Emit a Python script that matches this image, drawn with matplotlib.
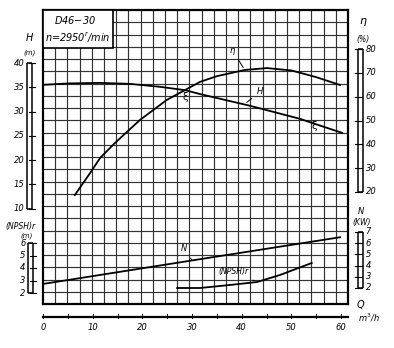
import matplotlib
matplotlib.use("Agg")
import matplotlib.pyplot as plt
from matplotlib.patches import Rectangle

# D46-30 pump, n = 2950 r/min : performance curves
# head H (m)
Q_H = [0, 5.4, 11.5, 17.5, 23.5, 28.6, 31.6, 41.6, 51.7, 54.3, 60.2]
H = [35.5, 35.8, 35.9, 35.7, 35.1, 34.4, 33.6, 31.2, 28.5, 27.6, 25.6]
# efficiency eta (%)
Q_eta = [6.4, 9.5, 11.5, 14.5, 19.5, 24.9, 28.6, 31.6, 35.0, 40.6, 45.1, 50.0, 55.0, 59.8]
eta = [18.7, 28.0, 34.3, 40.6, 50.2, 58.6, 62.8, 66.2, 68.6, 71.2, 72.0, 71.0, 68.2, 64.9]
# shaft power N (kW)
Q_N = [0, 31.6, 59.8]
N = [2.36, 4.57, 6.53]
# required NPSH (m)
Q_npsh = [27.0, 31.6, 37.6, 43.1, 47.7, 54.1]
npsh = [2.4, 2.4, 2.64, 2.88, 3.44, 4.4]

H_ticks = [10, 15, 20, 25, 30, 35, 40]
eta_ticks = [20, 30, 40, 50, 60, 70, 80]
npsh_ticks = [2, 3, 4, 5, 6]
N_ticks = [2, 3, 4, 5, 6, 7]
Q_ticks = [0, 10, 20, 30, 40, 50, 60]

W, Hpx = 394, 348
fig = plt.figure(figsize=(W / 100, Hpx / 100), dpi=100)
fig.patch.set_facecolor("white")
txt = dict(fontsize=6, style="italic", color="black")


def box(x0, y0, x1, y1):
    return [x0 / W, 1 - y1 / Hpx, (x1 - x0) / W, (y1 - y0) / Hpx]


def overlay(ylim):
    a = fig.add_axes(box(43, 10, 348, 304))
    a.set_xlim(0, 61.4)
    a.set_ylim(*ylim)
    a.axis("off")
    a.patch.set_alpha(0)
    return a


# grid paper: 25 x 24 cells
ax = fig.add_axes(box(43, 10, 348, 304))
ax.set_xlim(0, 25)
ax.set_ylim(0, 24)
ax.set_xticks([]); ax.set_yticks([])
for s in ax.spines.values():
    s.set_linewidth(1.6)
for i in range(1, 25):
    ax.axvline(i, color="#333333", lw=0.85)
for j in range(1, 24):
    ax.axhline(j, color="#333333", lw=0.85)
ax.add_patch(Rectangle((0, 20.9), 5.7, 3.1, facecolor="white",
                       edgecolor="black", lw=1.2, zorder=3))
ax.text(0.9, 22.85, "D46$-$30", fontsize=7, style="italic", zorder=4)
ax.text(0.15, 21.4, "n=2950$^r$/min", fontsize=7, style="italic", zorder=4)

lim_H = (-9.69, 50.93)
lim_eta = (-27.0, 96.37)
lim_N = (0.57, 26.82)
lim_npsh = (1.12, 24.64)

axH = overlay(lim_H)
axE = overlay(lim_eta)
axN = overlay(lim_N)
axP = overlay(lim_npsh)

axH.plot(Q_H, H, color="black", lw=1.3)
axE.plot(Q_eta, eta, color="black", lw=1.3)
axN.plot(Q_N, N, color="black", lw=1.3)
axP.plot(Q_npsh, npsh, color="black", lw=1.3)

lead = dict(arrowstyle="-", lw=0.7, color="black")
axE.annotate("η", xy=(40.6, 71.2), xytext=(37.6, 78.5), arrowprops=lead, **txt)
axH.annotate("H", xy=(40.6, 31.5), xytext=(43.0, 33.6), arrowprops=lead, **txt)
axN.annotate("N", xy=(30.0, 4.46), xytext=(27.8, 5.3), arrowprops=lead, **txt)
axP.annotate("(NPSH)r", xy=(43.1, 2.88), xytext=(35.4, 3.5), arrowprops=lead,
             fontsize=5.5, style="italic")
axH.text(28.6, 33.0, "ξ", ha="center", va="center", fontsize=7)
axH.text(54.6, 27.0, "ξ", ha="center", va="center", fontsize=7)


def ruler(x0, ylim, lo, hi, ticks, side):
    r = fig.add_axes(box(x0, 10, x0 + 5, 304))
    r.set_xlim(0, 1)
    r.set_ylim(*ylim)
    r.axis("off")
    r.vlines([0, 1], lo, hi, color="black", lw=1.1, clip_on=False)
    r.hlines([lo, hi], 0, 1, color="black", lw=1.1, clip_on=False)
    for t in ticks:
        if side == "left":
            r.plot([0.3, 1.6], [t, t], color="black", lw=0.8, clip_on=False)
            r.text(-0.5, t, str(t), ha="right", va="center", **txt)
        else:
            r.plot([-0.6, 0.7], [t, t], color="black", lw=0.8, clip_on=False)
            r.text(1.5, t, str(t), ha="left", va="center", **txt)
    return r


rH = ruler(27, lim_H, 10, 40, H_ticks, "left")
rH.text(0.5, 44.6, "H", ha="center", fontsize=7, style="italic")
rH.text(0.5, 41.8, "(m)", ha="center", fontsize=5, style="italic")

rP = ruler(28, lim_npsh, 2, 6, npsh_ticks, "left")
rP.text(-4.5, 7.1, "(NPSH)r", ha="left", fontsize=5.5, style="italic")
rP.text(-1.5, 6.45, "(m)", ha="left", fontsize=5, style="italic")

rE = ruler(358, lim_eta, 20, 80, eta_ticks, "right")
rE.text(1.0, 90.5, "η", ha="center", fontsize=8, style="italic")
rE.text(1.0, 83.0, "(%)", ha="center", fontsize=5.5, style="italic")

rN = ruler(358, lim_N, 2, 7, N_ticks, "right")
rN.text(0.5, 8.6, "N", ha="center", fontsize=6, style="italic")
rN.text(0.7, 7.6, "(KW)", ha="center", fontsize=5.5, style="italic")

# flow-rate scale under the grid
rQ = fig.add_axes(box(43, 314, 348, 319))
rQ.set_xlim(0, 61.4)
rQ.set_ylim(0, 1)
rQ.axis("off")
rQ.plot([0, 61.4], [0.5, 0.5], color="black", lw=1.6, clip_on=False)
for q in range(0, 61, 5):
    rQ.plot([q, q], [0.2, 1.0], color="black", lw=0.7, clip_on=False)
for q in Q_ticks:
    rQ.text(q, -1.6, str(q), ha="center", va="center", **txt)
rQ.text(63.2, 2.8, "Q", ha="left", va="center", fontsize=7, style="italic")
rQ.text(63.5, 0.2, "m$^3$/h", ha="left", va="center", fontsize=6, style="italic")

fig.savefig("out.png", dpi=100, facecolor="white")
